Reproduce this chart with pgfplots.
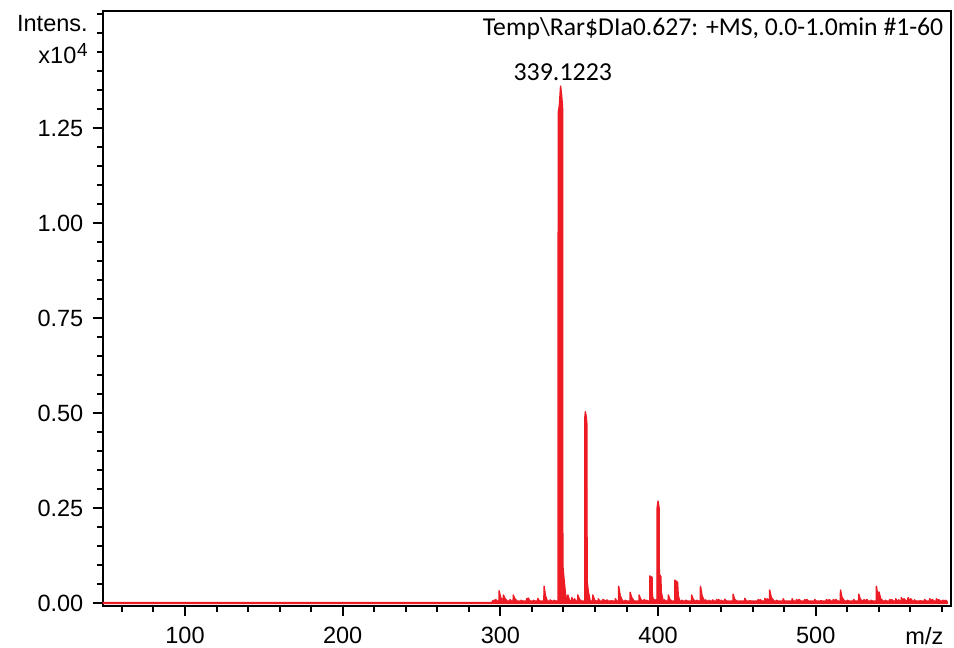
\documentclass[border=0pt]{standalone}
\usepackage{pgfplots}
\pgfplotsset{compat=1.18}
\usepackage{fontspec}
\setmainfont{Liberation Sans}
\newfontfamily\calfont{Carlito}
\definecolor{msred}{RGB}{237,28,36}

\begin{document}
\begin{tikzpicture}
\begin{axis}[
  scale only axis, width=424bp, height=297.35bp,
  xmin=47.8, xmax=585.6, ymin=-0.0063, ymax=1.5587,
  clip mode=individual,
  axis line style={line width=1bp},
  every tick/.style={black, line width=1bp},
  tick align=outside, xtick pos=bottom, ytick pos=left,
  major tick length=5bp, minor tick length=3bp,
  xtick={100,200,300,400,500},
  minor xtick={60,80,120,140,160,180,220,240,260,280,320,340,360,380,420,440,460,480,520,540,560,580},
  ytick={0,0.25,0.5,0.75,1,1.25},
  minor ytick={0.05,0.1,0.15,0.2,0.3,0.35,0.4,0.45,0.55,0.6,0.65,0.7,0.8,0.85,0.9,0.95,1.05,1.1,1.15,1.2,1.3,1.35,1.4,1.45,1.5,1.55},
  scaled y ticks=false,
  /pgf/number format/assume math mode=true,
  yticklabel style={/pgf/number format/fixed, /pgf/number format/fixed zerofill, /pgf/number format/precision=2},
  ticklabel style={font=\fontsize{11.8}{13}\selectfont},
  yticklabel style={inner sep=0pt, anchor=east, xshift=-4.5bp},
  xticklabel style={inner sep=0pt, anchor=base, yshift=-14bp},
]
\addplot[draw=msred, fill=msred, line width=0.7bp, line join=round] coordinates {
(47.8,0.002)(294.8,0.002)(295,0.006)
(296,0.008)(296.8,0.006)(297,0.010)(298,0.006)
(299.1,0.006)(299.2,0.033)(300.2,0.015)(301.5,0.008)
(301.8,0.008)(301.9,0.022)(303,0.012)(304.5,0.006)
(306,0.006)(306.1,0.010)(307,0.006)
(308.1,0.006)(308.2,0.022)(309,0.013)(310.5,0.006)
(313,0.006)(313.1,0.008)(314,0.006)
(316.6,0.006)(316.7,0.012)(317.5,0.008)(317.6,0.014)(318.8,0.006)
(321,0.006)(321.1,0.008)(322,0.006)
(323.6,0.006)(323.7,0.013)(324.8,0.006)
(327.6,0.006)(327.7,0.045)(328.6,0.02)(329.8,0.006)
(331.5,0.006)(331.6,0.009)(332.5,0.006)
(334,0.006)(334.1,0.008)(335,0.006)
(336.6,0.006)(336.7,1.29)(337.4,1.31)(338.2,1.361)(339.0,1.33)(339.5,1.30)(339.6,0.10)(340.3,0.067)(341.3,0.025)(342.2,0.006)
(342.7,0.006)(342.8,0.022)(343.8,0.008)
(345.2,0.006)(345.3,0.015)(346.2,0.006)
(346.9,0.006)(347,0.012)(347.8,0.006)
(349,0.006)(349.1,0.022)(350.2,0.010)(351.5,0.006)
(353.5,0.006)(353.6,0.49)(353.9,0.504)(354.5,0.49)(354.9,0.47)(355.0,0.06)(355.8,0.03)(357,0.006)
(358.5,0.006)(358.6,0.022)(359.8,0.008)(360.8,0.006)
(362,0.006)(362.1,0.012)(363,0.006)
(364.9,0.006)(365,0.010)(366,0.008)(366.8,0.006)
(367.5,0.006)(367.6,0.009)(368.3,0.006)
(370,0.006)(370.1,0.007)(371,0.006)
(372.8,0.006)(372.9,0.012)(373.8,0.006)
(374.9,0.006)(375,0.045)(376,0.02)(377.5,0.006)
(379,0.006)(379.1,0.008)(380,0.006)
(382.2,0.006)(382.3,0.029)(383.3,0.015)(384.8,0.006)
(387.9,0.006)(388,0.022)(389,0.01)(390.2,0.006)
(391,0.006)(391.1,0.01)(392.2,0.006)
(392.6,0.006)(392.7,0.008)(393.5,0.006)
(394.7,0.006)(394.8,0.072)(396.2,0.068)(396.4,0.02)(397.2,0.006)
(397.8,0.006)(397.9,0.01)(398.7,0.006)
(399.3,0.006)(399.4,0.25)(400.0,0.269)(400.7,0.25)(400.8,0.077)(401.8,0.07)(402.0,0.03)(403.3,0.006)
(404,0.006)(404.1,0.009)(405,0.006)
(406.4,0.006)(406.5,0.022)(407.5,0.01)(408.7,0.006)
(410.6,0.006)(410.7,0.061)(412.4,0.055)(412.8,0.02)(413.8,0.006)
(415,0.006)(415.1,0.008)(416,0.006)
(417.5,0.006)(417.6,0.008)(418.5,0.006)
(421.2,0.006)(421.3,0.022)(422.3,0.01)(423.5,0.006)
(424.5,0.006)(424.6,0.008)(425.5,0.006)
(426.8,0.006)(426.9,0.045)(427.9,0.02)(429.4,0.006)
(430,0.006)(430.1,0.009)(431,0.006)
(432.2,0.006)(432.3,0.008)(433,0.006)
(434.5,0.006)(434.6,0.009)(435.4,0.006)
(437,0.006)(437.1,0.01)(437.9,0.006)(438.4,0.01)(439.2,0.006)
(440,0.006)(440.1,0.008)(440.8,0.006)
(442.2,0.006)(442.3,0.011)(443.3,0.006)
(447.5,0.006)(447.6,0.024)(448.6,0.01)(450,0.006)
(454.9,0.006)(455,0.013)(456,0.006)
(458,0.006)(458.1,0.007)(459,0.006)
(463.3,0.006)(463.4,0.01)(464.2,0.006)(464.8,0.01)(465.8,0.006)
(467.6,0.006)(467.7,0.013)(468.5,0.007)(469.3,0.012)(470.2,0.007)
(470.7,0.007)(470.8,0.035)(471.8,0.015)(472.5,0.012)(473.5,0.006)
(475,0.006)(475.1,0.008)(476,0.006)
(479.2,0.006)(479.3,0.012)(480.2,0.006)
(484.9,0.006)(485,0.012)(485.9,0.006)
(487.7,0.006)(487.8,0.01)(488.6,0.006)(489.5,0.01)(490.4,0.006)
(492.9,0.006)(493,0.01)(493.8,0.006)(494.4,0.01)(495.3,0.006)
(499.3,0.006)(499.4,0.01)(500.3,0.006)
(503,0.006)(503.1,0.007)(504,0.006)
(506.7,0.006)(506.8,0.01)(507.6,0.006)(508.6,0.01)(509.6,0.006)
(511,0.006)(511.1,0.01)(511.9,0.006)(512.8,0.01)(513.8,0.006)
(515.6,0.006)(515.7,0.035)(516.7,0.015)(518.3,0.006)
(520,0.006)(520.1,0.008)(521,0.006)
(523.9,0.006)(524,0.01)(524.9,0.006)
(527.2,0.006)(527.3,0.024)(528.3,0.01)(529.8,0.006)
(530.5,0.006)(530.6,0.01)(531.5,0.006)(532.4,0.01)(533.3,0.006)
(535,0.006)(535.1,0.008)(536,0.006)
(538.4,0.006)(538.5,0.045)(539.3,0.02)(540,0.015)(540.1,0.03)(541.2,0.012)(542.8,0.006)
(544,0.006)(544.1,0.008)(545,0.006)
(546.8,0.006)(546.9,0.01)(547.8,0.006)(548.2,0.01)(549,0.006)
(550.6,0.006)(550.7,0.012)(551.7,0.006)
(552.5,0.006)(552.6,0.009)(553.4,0.006)
(554.2,0.006)(554.3,0.015)(555.2,0.008)(556,0.012)(557,0.007)
(558.4,0.007)(558.5,0.015)(559.4,0.008)(560.3,0.012)(561.3,0.006)
(562.5,0.006)(562.6,0.009)(563.5,0.006)
(566,0.006)(566.1,0.007)(567,0.006)
(569,0.006)(569.1,0.01)(570,0.006)
(572.2,0.006)(572.3,0.012)(573.2,0.007)(574,0.01)(575,0.006)
(576.4,0.006)(576.5,0.012)(577.4,0.007)(578,0.01)(579,0.006)
(580.5,0.006)(580.6,0.008)(581.5,0.006)
(582.1,0.006)(582.2,0.008)(583,0.006)(583.5,0.002)
} \closedcycle;
\node[anchor=base, font=\calfont\fontsize{13}{15}\selectfont, inner sep=0pt] at (axis cs:339.6,1.377) {339.1223};
\node[anchor=base east, font=\calfont\fontsize{12.9}{15}\selectfont, inner sep=0pt] at ([xshift=-3.5bp,yshift=-12.5bp]rel axis cs:1,1) {Temp\textbackslash Rar\$DIa0.627: +MS, 0.0-1.0min \#1-60};
\node[anchor=base east, font=\fontsize{11.8}{13}\selectfont, inner sep=0pt] at ([xshift=-7.3bp,yshift=-10.3bp]rel axis cs:0,1) {Intens.};
\node[anchor=base east, font=\fontsize{11.8}{13}\selectfont, inner sep=0pt] at ([xshift=-7.3bp,yshift=-26.2bp]rel axis cs:0,1) {x10\kern0.4bp\raisebox{3.5bp}{\fontsize{9.5}{10}\selectfont 4}};
\node[anchor=base east, font=\fontsize{11.8}{13}\selectfont, inner sep=0pt] at ([xshift=-3.5bp,yshift=-19.2bp]rel axis cs:1,0) {m/z};
\end{axis}
\pgfresetboundingbox
\useasboundingbox (-51.35bp,-21.15bp) rectangle (425.65bp,302.85bp);
\end{tikzpicture}
\end{document}
